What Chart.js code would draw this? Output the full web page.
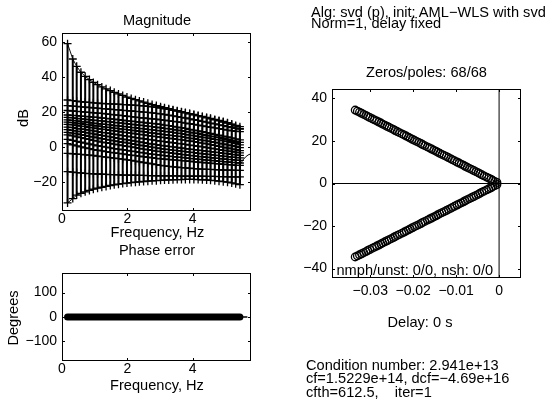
<!DOCTYPE html>
<html>
<head>
<meta charset="utf-8">
<script src="https://cdn.jsdelivr.net/npm/chart.js@4.4.1/dist/chart.umd.min.js"></script>
<style>
  body { margin: 0; background: #fff; }
  #fig { position: relative; width: 555px; height: 404px; overflow: hidden; background: #fff;
         font-family: 'Liberation Sans', Arial, sans-serif; color: #000; }
  #fig canvas { position: absolute; }
  .t { position: absolute; font-size: 14.6px; line-height: 14px; white-space: pre; }
  .c { transform: translateX(-50%); }
  .rot { transform: translate(-50%, -50%) rotate(-90deg); }
</style>
</head>
<body>
<div id="fig">
  <canvas id="mag" width="270" height="250" style="left:0px;top:0px"></canvas>
  <canvas id="phase" width="270" height="154" style="left:0px;top:250px"></canvas>
  <canvas id="pz" width="285" height="260" style="left:270px;top:60px"></canvas>

  <div class="t c" style="left:157px;top:13px">Magnitude</div>
  <div class="t rot" style="left:22.5px;top:117.5px">dB</div>
  <div class="t c" style="left:157.5px;top:225px">Frequency, Hz</div>
  <div class="t c" style="left:157px;top:243px">Phase error</div>
  <div class="t rot" style="left:12.5px;top:317.5px">Degrees</div>
  <div class="t c" style="left:157px;top:378px">Frequency, Hz</div>

  <div class="t" style="left:311px;top:4.7px">Alg: svd (p), init: AML−WLS with svd</div>
  <div class="t" style="left:311px;top:16.3px">Norm=1, delay fixed</div>
  <div class="t c" style="left:426.5px;top:64.7px">Zeros/poles: 68/68</div>
  <div class="t" style="left:336.5px;top:263px">nmph/unst: 0/0, nsh: 0/0</div>
  <div class="t c" style="left:420px;top:314.7px">Delay: 0 s</div>
  <div class="t" style="left:306px;top:358px">Condition number: 2.941e+13</div>
  <div class="t" style="left:306px;top:371.3px">cf=1.5229e+14, dcf=−4.69e+16</div>
  <div class="t" style="left:306px;top:384.7px">cfth=612.5,    iter=1</div>
</div>
<script>
// magnitude plot: frequencies of the bars (Hz) and the bounds (dB)
const freq = [0.17, 0.33, 0.45, 0.58, 0.71, 0.84, 0.96, 1.09, 1.22, 1.35,
  1.48, 1.60, 1.73, 1.86, 1.99, 2.12, 2.25, 2.37, 2.50, 2.63,
  2.76, 2.89, 3.02, 3.14, 3.27, 3.40, 3.53, 3.66, 3.78, 3.91,
  4.04, 4.17, 4.30, 4.43, 4.55, 4.68, 4.81, 4.94, 5.07, 5.20,
  5.32, 5.45];
const upperBound = [59.3, 50.5, 46.3, 42.9, 40.6, 38.7, 37.1, 35.8, 34.5, 33.4,
  32.4, 31.4, 30.5, 29.6, 28.7, 27.9, 27.2, 26.5, 25.8, 25.1,
  24.4, 23.8, 23.2, 22.6, 22.0, 21.4, 20.9, 20.3, 19.8, 19.2,
  18.7, 18.1, 17.6, 17.0, 16.5, 15.9, 15.3, 14.7, 14.0, 13.2,
  12.0, 10.6];
const lowerBound = [-32.0, -29.5, -27.5, -26.5, -25.6, -24.8, -24.1, -23.5, -23.0, -22.5,
  -22.0, -21.6, -21.2, -20.9, -20.6, -20.3, -20.1, -19.9, -19.7, -19.5,
  -19.3, -19.2, -19.0, -18.9, -18.8, -18.7, -18.6, -18.6, -18.5, -18.5,
  -18.5, -18.6, -18.7, -18.8, -19.0, -19.2, -19.5, -19.8, -20.1, -20.5,
  -21.0, -21.5];

// the curves inside the bounds (dB), top to bottom
const curve1 = [27.0, 26.6, 26.3, 26.0, 25.8, 25.6, 25.4, 25.2, 25.0, 24.9,
  24.8, 24.7, 24.6, 24.4, 24.3, 24.1, 24.0, 23.8, 23.6, 23.4,
  23.1, 22.8, 22.4, 22.0, 21.6, 21.1, 20.6, 20.1, 19.6, 19.1,
  18.5, 18.0, 17.4, 16.8, 16.2, 15.6, 15.0, 14.4, 13.7, 13.0,
  12.4, 11.7];
const curve2 = [23.8, 23.5, 23.3, 23.1, 22.9, 22.7, 22.5, 22.3, 22.1, 21.9,
  21.7, 21.5, 21.3, 21.1, 20.9, 20.7, 20.5, 20.3, 20.1, 19.9,
  19.6, 19.3, 19.0, 18.7, 18.3, 17.9, 17.5, 17.1, 16.7, 16.2,
  15.7, 15.3, 14.8, 14.3, 13.8, 13.3, 12.8, 12.3, 11.8, 11.2,
  10.7, 10.3];
const curve3 = [21.0, 20.7, 20.5, 20.3, 20.1, 19.9, 19.7, 19.5, 19.3, 19.0,
  18.8, 18.5, 18.3, 18.0, 17.7, 17.5, 17.2, 16.9, 16.7, 16.4,
  16.2, 16.0, 15.7, 15.4, 15.1, 14.8, 14.5, 14.2, 13.8, 13.4,
  13.0, 12.6, 12.2, 11.8, 11.4, 11.0, 10.6, 10.2, 9.8, 9.4,
  9.1, 8.9];
const curve4 = [18.4, 18.2, 18.0, 17.8, 17.6, 17.4, 17.2, 17.0, 16.7, 16.5,
  16.2, 16.0, 15.7, 15.4, 15.1, 14.9, 14.6, 14.3, 14.1, 13.8,
  13.6, 13.3, 13.0, 12.6, 12.3, 11.9, 11.5, 11.1, 10.7, 10.2,
  9.8, 9.3, 8.8, 8.3, 7.8, 7.3, 6.8, 6.3, 5.8, 5.3,
  4.7, 4.1];
const curve5 = [17.0, 16.8, 16.5, 16.2, 16.0, 15.7, 15.5, 15.2, 15.0, 14.7,
  14.5, 14.2, 13.9, 13.7, 13.4, 13.1, 12.8, 12.6, 12.3, 12.0,
  11.7, 11.4, 11.1, 10.8, 10.5, 10.1, 9.8, 9.4, 9.0, 8.6,
  8.1, 7.7, 7.2, 6.8, 6.3, 5.9, 5.4, 4.9, 4.4, 3.9,
  3.3, 2.7];
const curve6 = [15.6, 15.3, 15.0, 14.7, 14.4, 14.1, 13.8, 13.5, 13.2, 13.0,
  12.7, 12.4, 12.2, 11.9, 11.6, 11.3, 11.1, 10.8, 10.5, 10.2,
  9.9, 9.6, 9.3, 9.0, 8.7, 8.4, 8.0, 7.7, 7.3, 6.9,
  6.5, 6.1, 5.7, 5.3, 4.9, 4.5, 4.1, 3.6, 3.1, 2.6,
  2.0, 1.3];
const curve7 = [14.3, 14.0, 13.7, 13.4, 13.0, 12.7, 12.4, 12.1, 11.8, 11.5,
  11.2, 10.9, 10.6, 10.3, 10.0, 9.7, 9.4, 9.1, 8.8, 8.4,
  8.1, 7.8, 7.5, 7.2, 6.9, 6.6, 6.3, 6.0, 5.6, 5.2,
  4.8, 4.4, 4.0, 3.6, 3.2, 2.8, 2.3, 1.8, 1.3, 0.8,
  0.3, -0.3];
const curve8 = [13.0, 12.7, 12.4, 12.0, 11.7, 11.3, 11.0, 10.6, 10.3, 10.0,
  9.6, 9.3, 9.0, 8.6, 8.3, 8.0, 7.6, 7.3, 7.0, 6.6,
  6.3, 6.0, 5.7, 5.4, 5.1, 4.8, 4.5, 4.2, 3.9, 3.5,
  3.1, 2.7, 2.3, 1.9, 1.4, 1.0, 0.5, 0.0, -0.5, -1.0,
  -1.5, -2.0];
const curve9 = [11.5, 11.2, 10.8, 10.4, 10.1, 9.7, 9.3, 8.9, 8.5, 8.2,
  7.8, 7.4, 7.0, 6.6, 6.3, 5.9, 5.5, 5.2, 4.8, 4.4,
  4.1, 3.7, 3.4, 3.1, 2.8, 2.5, 2.2, 1.9, 1.6, 1.2,
  0.9, 0.5, 0.2, -0.2, -0.6, -1.0, -1.4, -1.8, -2.2, -2.6,
  -2.9, -3.3];
const curve10 = [10.0, 9.6, 9.2, 8.8, 8.4, 8.0, 7.6, 7.1, 6.7, 6.3,
  5.9, 5.5, 5.0, 4.6, 4.2, 3.8, 3.4, 3.0, 2.6, 2.2,
  1.8, 1.4, 1.0, 0.7, 0.4, 0.1, -0.2, -0.5, -0.8, -1.1,
  -1.4, -1.7, -2.0, -2.3, -2.6, -2.9, -3.2, -3.5, -3.8, -4.1,
  -4.4, -4.7];
const curve11 = [8.5, 8.0, 7.6, 7.1, 6.7, 6.2, 5.8, 5.3, 4.8, 4.4,
  4.0, 3.6, 3.2, 2.8, 2.4, 2.0, 1.6, 1.2, 0.8, 0.4,
  0.0, -0.4, -0.8, -1.1, -1.4, -1.7, -2.0, -2.3, -2.6, -2.9,
  -3.2, -3.5, -3.8, -4.0, -4.3, -4.6, -4.9, -5.1, -5.4, -5.7,
  -5.9, -6.2];
const curve12 = [7.0, 6.4, 5.9, 5.4, 4.9, 4.4, 3.9, 3.4, 2.9, 2.5,
  2.1, 1.7, 1.3, 0.9, 0.5, 0.1, -0.3, -0.7, -1.1, -1.5,
  -1.9, -2.3, -2.6, -2.9, -3.2, -3.5, -3.8, -4.1, -4.4, -4.7,
  -5.0, -5.3, -5.5, -5.8, -6.0, -6.3, -6.5, -6.8, -7.0, -7.2,
  -7.4, -7.6];
const curve13 = [4.5, 3.9, 3.3, 2.8, 2.3, 1.8, 1.3, 0.8, 0.4, 0.0,
  -0.4, -0.8, -1.2, -1.5, -1.9, -2.3, -2.6, -3.0, -3.3, -3.7,
  -4.0, -4.3, -4.6, -4.9, -5.2, -5.4, -5.7, -5.9, -6.2, -6.4,
  -6.7, -6.9, -7.2, -7.4, -7.6, -7.8, -8.1, -8.3, -8.5, -8.7,
  -8.9, -9.1];
const curve14 = [2.0, 1.3, 0.7, 0.1, -0.4, -0.9, -1.4, -1.8, -2.2, -2.6,
  -3.0, -3.3, -3.6, -3.9, -4.3, -4.6, -4.9, -5.2, -5.5, -5.8,
  -6.1, -6.4, -6.7, -6.9, -7.1, -7.3, -7.5, -7.7, -7.9, -8.1,
  -8.4, -8.6, -8.8, -9.0, -9.2, -9.4, -9.6, -9.8, -10.0, -10.2,
  -10.4, -10.5];
const curve15 = [-3.6, -3.8, -4.0, -4.2, -4.4, -4.6, -4.8, -5.1, -5.4, -5.7,
  -6.0, -6.3, -6.6, -6.9, -7.3, -7.6, -8.0, -8.4, -8.8, -9.2,
  -9.6, -10.0, -10.4, -10.7, -11.0, -11.3, -11.5, -11.7, -11.9, -12.1,
  -12.3, -12.5, -12.6, -12.7, -12.8, -12.9, -13.0, -13.1, -13.2, -13.2,
  -13.3, -13.3];
const curve16 = [-14.0, -14.3, -14.6, -14.8, -15.0, -15.2, -15.3, -15.4, -15.5, -15.6,
  -15.7, -15.8, -15.9, -16.0, -16.0, -16.1, -16.1, -16.2, -16.2, -16.3,
  -16.3, -16.4, -16.4, -16.4, -16.5, -16.5, -16.5, -16.6, -16.6, -16.6,
  -16.7, -16.7, -16.7, -16.8, -16.8, -16.8, -16.9, -16.9, -17.0, -17.0,
  -17.1, -17.1];
// model curve past the last bar
const extFreq = [5.47, 5.55, 5.62, 5.70, 5.79];
const extMag = [-9.5, -7.2, -5.7, -4.5, -3.8];

// phase error (degrees)
const phaseErr = [0, 0, 0, 0, 0, 0, 0, 0, 0, 0,
  0, 0, 0, 0, 0, 0, 0, 0, 0, 0,
  0, 0, 0, 0, 0, 0, 0, 0, 0, 0,
  0, 0, 0, 0, 0, 0, 0, 0, 0, 0,
  0, 0];
const phaseExtFreq = [5.47, 5.58, 5.68];
const phaseExtErr = [0, 0, 0];

// poles and zeros, upper half plane (the lower half is the conjugate)
const poleRe = [-0.0010, -0.0019, -0.0029, -0.0040, -0.0049, -0.0059, -0.0069, -0.0079, -0.0088, -0.0098,
  -0.0109, -0.0118, -0.0128, -0.0138, -0.0147, -0.0157, -0.0167, -0.0178, -0.0187, -0.0197,
  -0.0207, -0.0216, -0.0226, -0.0237, -0.0246, -0.0256, -0.0266, -0.0275, -0.0285, -0.0295,
  -0.0306, -0.0315, -0.0325, -0.0335];
const poleIm = [1.0, 2.0, 3.0, 4.1, 5.1, 6.1, 7.1, 8.1, 9.1, 10.1,
  11.2, 12.2, 13.2, 14.2, 15.2, 16.2, 17.2, 18.3, 19.3, 20.3,
  21.3, 22.3, 23.3, 24.4, 25.4, 26.4, 27.4, 28.4, 29.4, 30.4,
  31.5, 32.5, 33.5, 34.5];
const zeroRe = [-0.0005, -0.0015, -0.0024, -0.0035, -0.0045, -0.0054, -0.0064, -0.0074, -0.0083, -0.0093,
  -0.0104, -0.0113, -0.0123, -0.0133, -0.0143, -0.0152, -0.0162, -0.0173, -0.0182, -0.0192,
  -0.0202, -0.0211, -0.0221, -0.0232, -0.0242, -0.0251, -0.0261, -0.0271, -0.0280, -0.0290,
  -0.0301, -0.0310, -0.0320, -0.0330];
const zeroIm = [0.5, 1.5, 2.5, 3.6, 4.6, 5.6, 6.6, 7.6, 8.6, 9.6,
  10.7, 11.7, 12.7, 13.7, 14.7, 15.7, 16.7, 17.8, 18.8, 19.8,
  20.8, 21.8, 22.8, 23.9, 24.9, 25.9, 26.9, 27.9, 28.9, 29.9,
  31.0, 32.0, 33.0, 34.0];

// axis limits and ticks
const magX = [0, 5.79], magY = [-36.6, 65.4];
const magXTicks = [0, 2, 4], magYTicks = [-20, 0, 20, 40, 60];
const phaseY = [-180, 180], phaseYTicks = [-100, 0, 100];
const pzX = [-0.0389, 0.0051], pzY = [-44.4, 44.4];
const pzXTicks = [-0.03, -0.02, -0.01, 0], pzYTicks = [-40, -20, 0, 20, 40];

Chart.defaults.font.family = "'Liberation Sans', Arial, sans-serif";
Chart.defaults.font.size = 14;
Chart.defaults.color = '#000';

// matlab style box with the tick marks inside
const boxPlugin = {
  id: 'box',
  afterDatasetsDraw(chart) {
    const { ctx, chartArea: a, scales } = chart;
    ctx.save();
    ctx.strokeStyle = '#000';
    ctx.lineWidth = 1;
    ctx.strokeRect(a.left + 0.5, a.top + 0.5, a.right - a.left - 1, a.bottom - a.top - 1);
    ctx.beginPath();
    scales.x.ticks.forEach(t => {
      const p = Math.round(scales.x.getPixelForValue(t.value)) + 0.5;
      ctx.moveTo(p, a.bottom); ctx.lineTo(p, a.bottom - 3);
      ctx.moveTo(p, a.top); ctx.lineTo(p, a.top + 3);
    });
    scales.y.ticks.forEach(t => {
      const p = Math.round(scales.y.getPixelForValue(t.value)) + 0.5;
      ctx.moveTo(a.left, p); ctx.lineTo(a.left + 3, p);
      ctx.moveTo(a.right, p); ctx.lineTo(a.right - 3, p);
    });
    ctx.stroke();
    ctx.restore();
  }
};

function axis(lim, tickVals, size, pad, horiz) {
  return {
    type: 'linear', min: lim[0], max: lim[1], offset: false,
    grid: { display: false, drawTicks: false },
    border: { display: false },
    ticks: {
      autoSkip: false, maxRotation: 0, minRotation: 0, padding: pad,
      callback: v => String(v).replace('-', '\u2212')
    },
    afterBuildTicks: s => { s.ticks = tickVals.map(v => ({ value: v })); },
    afterFit: s => { if (horiz) s.height = size; else s.width = size; }
  };
}

function baseOptions(m, xs, ys) {
  return {
    responsive: false, animation: false, events: [],
    layout: { padding: { left: 0, top: m.top, right: m.right, bottom: 0 } },
    plugins: { legend: { display: false }, tooltip: { enabled: false } },
    scales: { x: xs, y: ys }
  };
}

const pts = (xs, ys) => xs.map((x, i) => ({ x: x, y: ys[i] }));

function curveSet(ys, color) {
  return {
    data: pts(freq, ys), showLine: true, borderColor: color, borderWidth: 1,
    pointStyle: 'cross', pointRadius: 4, pointBorderColor: '#000', pointBorderWidth: 1.3
  };
}

// vertical bars between the bounds, one segment per frequency
const barPts = [];
freq.forEach((f, i) => {
  barPts.push({ x: f, y: lowerBound[i] }, { x: f, y: upperBound[i] }, { x: f, y: null });
});

const magCurves = [upperBound, lowerBound, curve1, curve2, curve3, curve4, curve5, curve6, curve7,
  curve8, curve9, curve10, curve11, curve12, curve13, curve14, curve15, curve16];

new Chart(document.getElementById('mag'), {
  type: 'scatter',
  data: {
    datasets: [
      { data: barPts, showLine: true, spanGaps: false, borderColor: '#000', borderWidth: 2, pointRadius: 0 },
      ...magCurves.map(c => curveSet(c, '#111')),
      { data: pts(extFreq, extMag), showLine: true, borderColor: '#000', borderWidth: 1, pointRadius: 0 }
    ]
  },
  options: baseOptions({ top: 33, right: 19 },
    axis(magX, magXTicks, 39, 0, true), axis(magY, magYTicks, 62, 5, false)),
  plugins: [boxPlugin]
});

new Chart(document.getElementById('phase'), {
  type: 'scatter',
  data: {
    datasets: [
      { data: pts(freq, phaseErr), showLine: true, borderColor: '#000', borderWidth: 7,
        borderCapStyle: 'round', pointRadius: 0 },
      { data: pts(phaseExtFreq, phaseExtErr), showLine: true, borderColor: '#000', borderWidth: 1.5, pointRadius: 0 }
    ]
  },
  options: baseOptions({ top: 23, right: 19 },
    axis(magX, magXTicks, 43, 0, true), axis(phaseY, phaseYTicks, 62, 5, false)),
  plugins: [boxPlugin]
});

const ring = { pointStyle: 'circle', pointRadius: 3.8, pointBorderWidth: 1.3,
  pointBorderColor: '#000', pointBackgroundColor: 'rgba(0,0,0,0)' };

new Chart(document.getElementById('pz'), {
  type: 'scatter',
  data: {
    datasets: [
      Object.assign({ data: pts(poleRe, poleIm) }, ring),
      Object.assign({ data: poleRe.map((r, i) => ({ x: r, y: -poleIm[i] })) }, ring),
      Object.assign({ data: pts(zeroRe, zeroIm) }, ring),
      Object.assign({ data: zeroRe.map((r, i) => ({ x: r, y: -zeroIm[i] })) }, ring),
      { data: [{ x: 0, y: pzY[0] }, { x: 0, y: pzY[1] }], showLine: true, borderColor: '#000', borderWidth: 1, pointRadius: 0 },
      { data: [{ x: pzX[0], y: 0 }, { x: pzX[1], y: 0 }], showLine: true, borderColor: '#000', borderWidth: 1, pointRadius: 0 }
    ]
  },
  options: baseOptions({ top: 29, right: 34 },
    axis(pzX, pzXTicks, 42, 5, true), axis(pzY, pzYTicks, 62, 5, false)),
  plugins: [boxPlugin]
});
</script>
</body>
</html>
